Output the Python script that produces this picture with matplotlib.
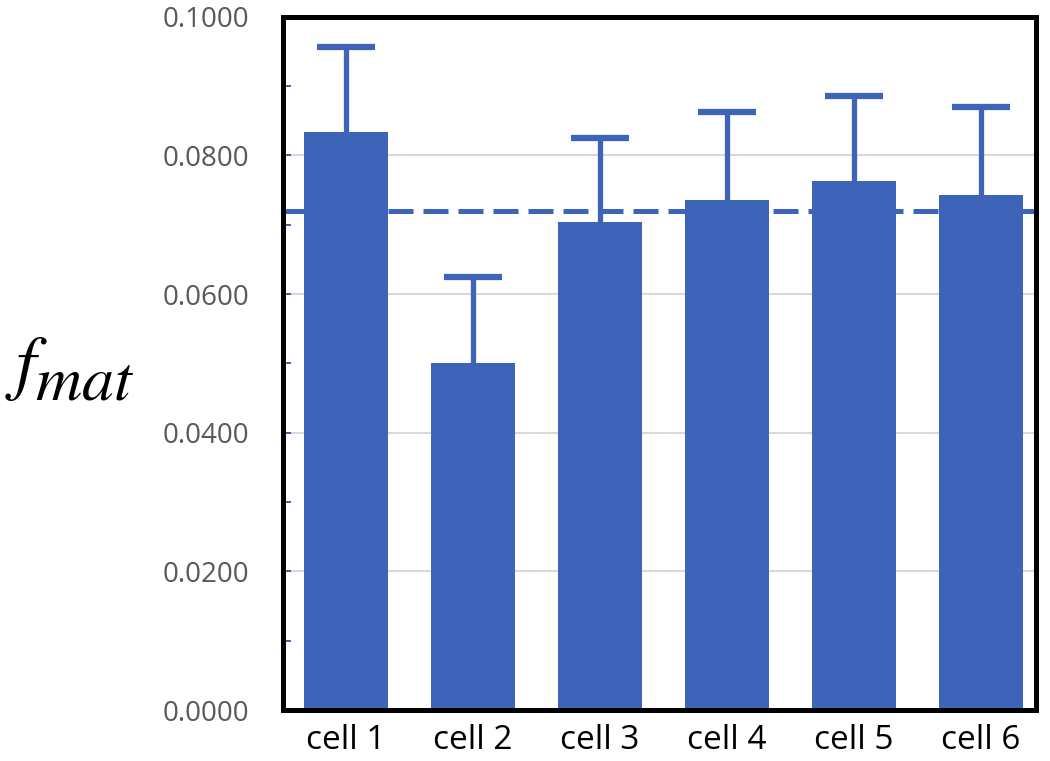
import matplotlib
matplotlib.use("Agg")
import matplotlib.pyplot as plt
from matplotlib.ticker import MultipleLocator, FormatStrFormatter

cells = ["cell 1", "cell 2", "cell 3", "cell 4", "cell 5", "cell 6"]
fmat = [0.0834, 0.0501, 0.0704, 0.0736, 0.0763, 0.0743]
err_up = [0.0123, 0.0124, 0.0121, 0.0127, 0.0123, 0.0127]
mean_line = 0.0720

blue = '#3E64BA'

plt.rcParams['font.family'] = ['Open Sans', 'DejaVu Sans']
plt.rcParams['mathtext.fontset'] = 'stix'

fig = plt.figure(figsize=(10.5, 7.61), dpi=100)
ax = fig.add_axes([0.2695, 0.067, 0.717, 0.911])

x = list(range(len(cells)))
ax.axhline(mean_line, color=blue, lw=3.6, linestyle=(0, (5, 2)), zorder=1.5)
ax.bar(x, fmat, width=0.66, color=blue, zorder=2)
eb = ax.errorbar(x, fmat, yerr=[[0] * len(x), err_up], fmt='none', ecolor=blue,
                 elinewidth=3.8, capsize=21, capthick=4.5, zorder=3)
eb[1][0].set_visible(False)

ax.set_xlim(-0.496, 5.434)
ax.set_ylim(0, 0.1)
ax.yaxis.set_major_locator(MultipleLocator(0.02))
ax.yaxis.set_minor_locator(MultipleLocator(0.01))
ax.yaxis.set_major_formatter(FormatStrFormatter('%.4f'))
ax.grid(axis='y', color='#D9D9D9', lw=1.5, zorder=0)
ax.set_axisbelow(True)

ax.tick_params(axis='y', which='both', direction='in', length=6, width=1.3,
               color='#2F55A8', labelsize=20, labelcolor='#595959', pad=24)
ax.tick_params(axis='x', length=0, labelsize=24, labelcolor='black', pad=10)
ax.set_xticks(x)
ax.set_xticklabels(cells)

for s in ax.spines.values():
    s.set_linewidth(3.6)
    s.set_color('black')

# y label drawn as two pieces so the subscript stays large
fig.text(0.005, 1 - 386 / 761, r'$f$', fontsize=52, ha='left', va='baseline')
fig.text(0.033, 1 - 400 / 761, r'$mat$', fontsize=46, ha='left', va='baseline')

fig.savefig('out.png', dpi=100)
